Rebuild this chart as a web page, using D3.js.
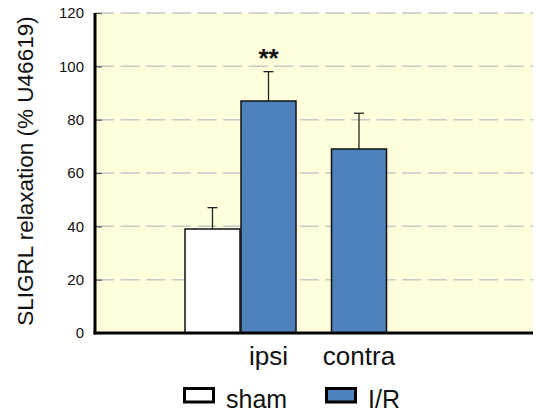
<!DOCTYPE html>
<html>
<head>
<meta charset="utf-8">
<script src="https://cdn.jsdelivr.net/npm/d3@7"></script>
<style>
  html, body { margin: 0; padding: 0; background: #ffffff; }
  svg { display: block; font-family: "Liberation Sans", Arial, sans-serif; }
</style>
</head>
<body>
<svg id="chart" width="539" height="414"></svg>
<script>
// Relaxation to SLIGRL, expressed as % of the U46619 response
const groups = ["sham", "ipsi", "contra"];
const groupSeries = ["sham", "I/R", "I/R"];
const meanValues = [39, 87, 69];
const semValues = [8, 11, 13.4];
const significance = ["", "**", ""];
const categoryLabels = ["ipsi", "contra"];
const seriesNames = ["sham", "I/R"];
const yTicks = [0, 20, 40, 60, 80, 100, 120];

const W = 539, H = 414;
const margin = { top: 13, right: 6, bottom: 81, left: 95 };
const svg = d3.select("#chart");
const iw = W - margin.left - margin.right;
const ih = H - margin.top - margin.bottom;
const g = svg.append("g").attr("transform", `translate(${margin.left},${margin.top})`);

const colors = d3.scaleOrdinal().domain(seriesNames).range(["#ffffff", "#4f81bd"]);
const y = d3.scaleLinear().domain([0, 120]).range([ih, 0]);

// plot background
g.append("rect").attr("width", iw).attr("height", ih).attr("fill", "#fefedc");

// dashed gridlines
g.append("g").selectAll("line").data(yTicks.filter(t => t > 0)).join("line")
  .attr("x1", 0).attr("x2", iw)
  .attr("y1", d => y(d)).attr("y2", d => y(d))
  .attr("stroke", "#c8c8c8").attr("stroke-width", 1.5)
  .attr("stroke-dasharray", "19,6.6");

// y axis
const yAxis = g.append("g").call(d3.axisLeft(y).tickValues(yTicks).tickSize(-7).tickPadding(11));
yAxis.select(".domain").remove();
yAxis.selectAll(".tick line").attr("stroke", "#555").attr("stroke-width", 1.2);
yAxis.selectAll(".tick text").attr("font-size", 15).attr("fill", "#111")
  .attr("font-family", "'Liberation Sans', Arial, sans-serif");

// bar positions: sham and ipsi I/R abut, contra stands alone
const bw = 55;
const barX = d3.scaleOrdinal().domain(["sham", "ipsi", "contra"]).range([90, 146, 236.5]);

const bars = groups.map((d, i) => ({ key: d, series: groupSeries[i], v: meanValues[i], e: semValues[i], s: significance[i] }));

// error bars (upper only)
const eg = g.append("g");
eg.selectAll("line.stem").data(bars).join("line").attr("class", "stem")
  .attr("x1", d => barX(d.key) + bw / 2).attr("x2", d => barX(d.key) + bw / 2)
  .attr("y1", d => y(d.v)).attr("y2", d => y(d.v + d.e))
  .attr("stroke", "#222").attr("stroke-width", 1.3);
eg.selectAll("line.cap").data(bars).join("line").attr("class", "cap")
  .attr("x1", d => barX(d.key) + bw / 2 - 5).attr("x2", d => barX(d.key) + bw / 2 + 5)
  .attr("y1", d => y(d.v + d.e)).attr("y2", d => y(d.v + d.e))
  .attr("stroke", "#222").attr("stroke-width", 1.3);

// bars
g.append("g").selectAll("rect").data(bars).join("rect")
  .attr("x", d => barX(d.key)).attr("width", bw)
  .attr("y", d => y(d.v)).attr("height", d => y(0) - y(d.v))
  .attr("fill", d => colors(d.series))
  .attr("stroke", "#111").attr("stroke-width", 1.5);

// significance marks
g.append("g").selectAll("text").data(bars.filter(d => d.s)).join("text")
  .attr("x", d => barX(d.key) + bw / 2).attr("y", d => y(d.v + d.e) - 5)
  .attr("text-anchor", "middle").attr("font-size", 26).attr("font-weight", "bold")
  .attr("fill", "#111").text(d => d.s);

// axes lines
g.append("line").attr("x1", 0).attr("x2", 0).attr("y1", 0).attr("y2", ih + 1.5)
  .attr("stroke", "#000").attr("stroke-width", 3);
g.append("line").attr("x1", -1.5).attr("x2", iw).attr("y1", ih).attr("y2", ih)
  .attr("stroke", "#000").attr("stroke-width", 3);

// category labels
g.append("g").selectAll("text").data(categoryLabels).join("text")
  .attr("x", d => barX(d) + bw / 2).attr("y", ih + 32)
  .attr("text-anchor", "middle").attr("font-size", 26).attr("fill", "#111").text(d => d);

// y axis title
svg.append("text")
  .attr("transform", `translate(33,${margin.top + ih / 2 - 2}) rotate(-90)`)
  .attr("text-anchor", "middle").attr("font-size", 22.5).attr("fill", "#111")
  .text("SLIGRL relaxation (% U46619)");

// legend
const legendX = [183, 325];
const lg = svg.append("g");
seriesNames.forEach((name, i) => {
  lg.append("rect").attr("x", legendX[i] + 1.5).attr("y", 388.5).attr("width", 29).attr("height", 13.5)
    .attr("fill", colors(name)).attr("stroke", "#000").attr("stroke-width", 3);
  lg.append("text").attr("x", legendX[i] + 43).attr("y", 408)
    .attr("font-size", 25).attr("fill", "#111").text(name);
});
</script>
</body>
</html>
